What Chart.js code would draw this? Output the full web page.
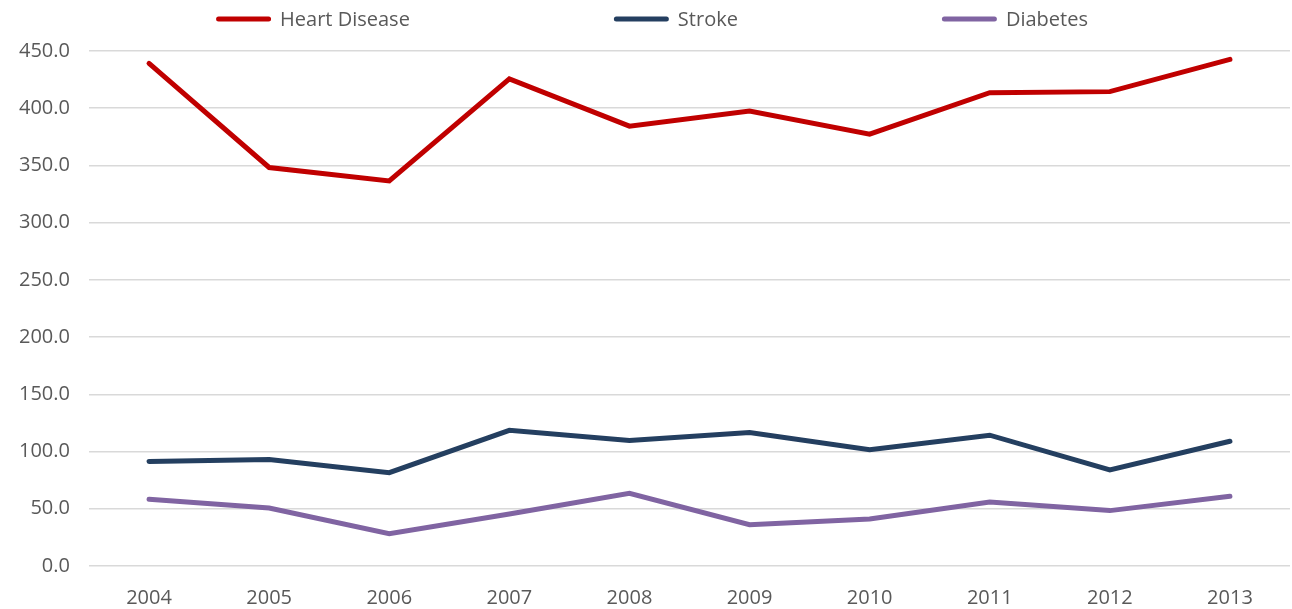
<!DOCTYPE html>
<html>
<head>
<meta charset="utf-8">
<script src="https://cdn.jsdelivr.net/npm/chart.js@4"></script>
<style>
  html, body { margin: 0; padding: 0; background: #fff; }
  #wrap { width: 1292px; height: 609px; position: relative; }
</style>
</head>
<body>
<div id="wrap"><canvas id="myChartLine"></canvas></div>
<script>
const years = ["2004", "2005", "2006", "2007", "2008", "2009", "2010", "2011", "2012", "2013"];
const heartDisease = [439.2, 348.2, 336.5, 425.7, 384.3, 397.5, 377.3, 413.6, 414.5, 442.7];
const stroke = [91.3, 93.0, 81.6, 118.6, 109.6, 116.6, 101.5, 114.3, 84.0, 109.0];
const diabetes = [58.3, 50.7, 28.3, 45.5, 63.5, 36.1, 41.1, 56.0, 48.4, 60.9];

const yMin = 0, yMax = 450, yStep = 50;

const FONT = "'Open Sans', 'Liberation Sans', sans-serif";
const GRIS = "#595959";

Chart.defaults.font.family = FONT;
Chart.defaults.color = GRIS;

var ctx = document.getElementById('myChartLine').getContext('2d');

function serie(label, data, color) {
    return {
        label: label,
        data: data,
        borderColor: color,
        backgroundColor: color,
        borderWidth: 5,
        borderCapStyle: 'round',
        pointRadius: 0,
        pointHoverRadius: 0,
        tension: 0,
        fill: false
    };
}

// legend drawn by hand: one row, wide even gaps, thick rounded line keys
const leyenda = {
    id: 'leyenda',
    afterDraw: function (chart) {
        const c = chart.ctx;
        const keyW = 55, keyGap = 9, itemGap = 204, yMid = 19;
        c.save();
        c.font = "20px " + FONT;
        c.textBaseline = 'middle';
        const items = chart.data.datasets.map(ds => ({
            ds: ds,
            w: keyW + keyGap + c.measureText(ds.label).width
        }));
        const total = items.reduce((s, it) => s + it.w, 0) + itemGap * (items.length - 1);
        let x = chart.width / 2 + 6 - total / 2;
        items.forEach(it => {
            c.strokeStyle = it.ds.borderColor;
            c.lineWidth = 5;
            c.lineCap = 'round';
            c.beginPath();
            c.moveTo(x + 2.5, yMid);
            c.lineTo(x + keyW - 2.5, yMid);
            c.stroke();
            c.fillStyle = GRIS;
            c.fillText(it.ds.label, x + keyW + keyGap, yMid + 1);
            x += it.w + itemGap;
        });
        c.restore();
    }
};

grafico = new Chart(ctx, {
    type: 'line',
    data: {
        labels: years,
        datasets: [
            serie("Heart Disease", heartDisease, "#C00000"),
            serie("Stroke", stroke, "#243F60"),
            serie("Diabetes", diabetes, "#8064A2")
        ]
    },
    options: {
        responsive: true,
        maintainAspectRatio: false,
        animation: false,
        layout: { padding: { left: 0, right: 2, top: 51, bottom: -13 } },
        plugins: {
            tooltip: { enabled: false },
            legend: { display: false }
        },
        scales: {
            x: {
                offset: true,
                grid: { display: false },
                border: { display: false },
                ticks: { font: { size: 20 }, color: GRIS, padding: 12, maxRotation: 0 }
            },
            y: {
                min: yMin,
                max: yMax,
                border: { display: false },
                grid: { color: "#D9D9D9", lineWidth: 1.5, drawTicks: false },
                ticks: {
                    stepSize: yStep,
                    padding: 19,
                    font: { size: 20 },
                    color: GRIS,
                    callback: function (v) { return Number(v).toFixed(1); }
                }
            }
        }
    },
    plugins: [leyenda]
});
</script>
</body>
</html>
